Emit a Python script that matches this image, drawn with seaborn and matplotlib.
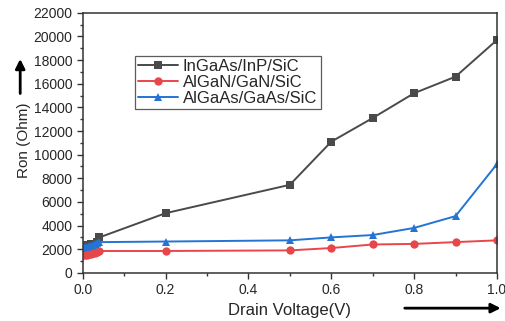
import matplotlib
matplotlib.use("Agg")
import matplotlib.pyplot as plt
import seaborn as sns
import pandas as pd
import numpy as np

voltage = [0.0, 0.005, 0.01, 0.015, 0.02, 0.025, 0.03, 0.035, 0.04, 0.2, 0.5, 0.6, 0.7, 0.8, 0.9, 1.0]
ingaas = [2300, 2320, 2350, 2380, 2400, 2420, 2450, 2600, 3000, 5050, 7450, 11100, 13100, 15200, 16600, 19700]
algan = [1500, 1520, 1540, 1560, 1600, 1640, 1680, 1750, 1850, 1850, 1900, 2100, 2400, 2450, 2600, 2750]
algaas = [2100, 2150, 2200, 2250, 2300, 2350, 2400, 2500, 2600, 2650, 2750, 3000, 3200, 3800, 4800, 9200]
series_names = ["InGaAs/InP/SiC", "AlGaN/GaN/SiC", "AlGaAs/GaAs/SiC"]

sns.set_style("white")
plt.rcParams['font.family'] = ['Liberation Sans', 'DejaVu Sans']

df = pd.DataFrame({
    "V": voltage * 3,
    "R": ingaas + algan + algaas,
    "s": [series_names[0]] * len(voltage) + [series_names[1]] * len(voltage) + [series_names[2]] * len(voltage),
})

fig = plt.figure(figsize=(5.05, 3.21), dpi=100)
ax = fig.add_axes([0.164, 0.150, 0.820, 0.810])

palette = {series_names[0]: "#4a4a4a", series_names[1]: "#e8474a", series_names[2]: "#2474d4"}
markers = {series_names[0]: "s", series_names[1]: "o", series_names[2]: "^"}
sns.lineplot(data=df, x="V", y="R", hue="s", style="s", palette=palette, markers=markers,
             dashes=False, markersize=6, linewidth=1.4, markeredgewidth=0, ax=ax)

ax.set_xlim(0, 1.0)
ax.set_ylim(0, 22000)
ax.set_xticks(np.arange(0, 1.01, 0.2))
ax.set_xticks(np.arange(0.1, 1.0, 0.2), minor=True)
ax.set_xticklabels(["0.0", "0.2", "0.4", "0.6", "0.8", "1.0"])
ax.set_yticks(np.arange(0, 22001, 2000))
ax.set_yticks(np.arange(1000, 22000, 2000), minor=True)
ax.tick_params(axis="both", which="major", direction="out", length=4, width=1, labelsize=10, color="#333333",
               bottom=True, left=True)
ax.tick_params(axis="both", which="minor", direction="out", length=2.5, width=1, color="#333333",
               bottom=True, left=True)
for sp in ax.spines.values():
    sp.set_color("#333333")
    sp.set_linewidth(1.1)

ax.set_xlabel("Drain Voltage(V)", fontsize=12)
ax.set_ylabel("Ron (Ohm)", fontsize=11)
ax.xaxis.set_label_coords(0.5, -0.115)
ax.yaxis.set_label_coords(-0.125, 0.51)

leg = ax.legend(loc="upper left", bbox_to_anchor=(0.125, 0.835), fontsize=12, frameon=True,
                fancybox=False, handlelength=2.4, borderpad=0.2, labelspacing=0.05, handletextpad=0.3,
                borderaxespad=0)
leg.get_frame().set_edgecolor("#333333")
leg.get_frame().set_linewidth(0.9)
leg.set_title(None)

# arrows
ax.annotate("", xy=(0.040, 0.825), xytext=(0.040, 0.70), xycoords="figure fraction",
            arrowprops=dict(arrowstyle="-|>", color="black", lw=2.0, mutation_scale=14))
ax.annotate("", xy=(0.997, 0.040), xytext=(0.796, 0.040), xycoords="figure fraction",
            arrowprops=dict(arrowstyle="-|>", color="black", lw=2.0, mutation_scale=14))

fig.savefig("out.png", dpi=100)
